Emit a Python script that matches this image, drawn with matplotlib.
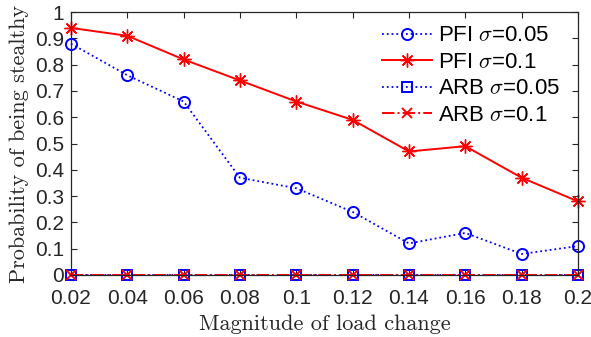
import numpy as np
import matplotlib
matplotlib.use("Agg")
import matplotlib.pyplot as plt

x = [0.02, 0.04, 0.06, 0.08, 0.10, 0.12, 0.14, 0.16, 0.18, 0.20]
pfi_005 = [0.88, 0.76, 0.66, 0.37, 0.33, 0.24, 0.12, 0.16, 0.08, 0.11]
pfi_01 = [0.94, 0.91, 0.82, 0.74, 0.66, 0.59, 0.47, 0.49, 0.37, 0.28]
arb_005 = [0, 0, 0, 0, 0, 0, 0, 0, 0, 0]
arb_01 = [0, 0, 0, 0, 0, 0, 0, 0, 0, 0]

xticks = [0.02, 0.04, 0.06, 0.08, 0.1, 0.12, 0.14, 0.16, 0.18, 0.2]
xtick_labels = ['0.02', '0.04', '0.06', '0.08', '0.1', '0.12', '0.14', '0.16', '0.18', '0.2']
yticks = [0, 0.1, 0.2, 0.3, 0.4, 0.5, 0.6, 0.7, 0.8, 0.9, 1.0]
ytick_labels = ['0', '0.1', '0.2', '0.3', '0.4', '0.5', '0.6', '0.7', '0.8', '0.9', '1']

plt.rcParams['font.family'] = ['Liberation Sans', 'DejaVu Sans']
plt.rcParams['mathtext.fontset'] = 'cm'
plt.rcParams['axes.unicode_minus'] = False

fig = plt.figure(figsize=(5.91, 3.37), dpi=100)
ax = fig.add_axes([0.120, 0.184, 0.858, 0.780])

star = (8, 2, 0)  # asterisk like matlab '*'
ax.plot(x, pfi_005, color='blue', linestyle=':', marker='o', markerfacecolor='none',
        markersize=8, markeredgewidth=1.4, linewidth=1.3, label=r'PFI $\sigma$=0.05', clip_on=False)
ax.plot(x, pfi_01, color='red', linestyle='-', marker=star,
        markersize=10, markeredgewidth=1.0, linewidth=1.4, label=r'PFI $\sigma$=0.1', clip_on=False)
ax.plot(x, arb_005, color='blue', linestyle=':', marker='s', markerfacecolor='none',
        markersize=7, markeredgewidth=1.4, linewidth=1.3, label=r'ARB $\sigma$=0.05', clip_on=False)
ax.plot(x, arb_01, color='red', linestyle='-.', marker='x',
        markersize=7, markeredgewidth=1.4, linewidth=1.4, label=r'ARB $\sigma$=0.1', clip_on=False)

ax.set_xlim(0.02, 0.2)
ax.set_ylim(0, 1)
ax.set_xticks(xticks)
ax.set_xticklabels(xtick_labels)
ax.set_yticks(yticks)
ax.set_yticklabels(ytick_labels)
ax.tick_params(direction='in', top=True, right=True, labelsize=15,
               colors='#262626', length=4.5, width=0.8)
ax.tick_params(axis='x', pad=10)
ax.tick_params(axis='y', pad=5)
for s in ax.spines.values():
    s.set_color('#262626')
    s.set_linewidth(0.9)

ax.set_xlabel('Magnitude of load change', family='cmr10', fontsize=16, color='#262626', labelpad=5)
ax.set_ylabel('Probability of being stealthy', family='cmr10', fontsize=16, color='#262626', labelpad=4)

leg = ax.legend(loc='upper left', bbox_to_anchor=(0.60, 0.975), fontsize=16, frameon=False,
                handlelength=2.25, handletextpad=0.27, labelspacing=0.25,
                borderaxespad=0, borderpad=0.3)

fig.savefig('out.png', dpi=100)
